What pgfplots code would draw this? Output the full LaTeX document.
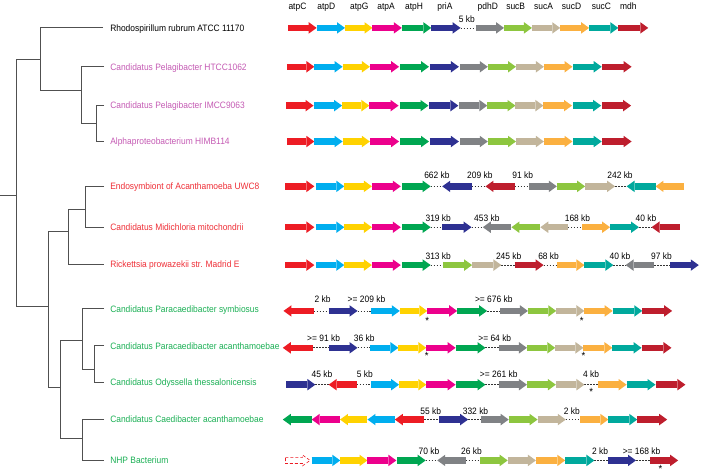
\documentclass[border=0pt]{standalone}
\usepackage{pgfplots}
\pgfplotsset{compat=1.18}
\usepackage{fontspec}
\setmainfont[FakeStretch=0.91]{Liberation Sans}
\usetikzlibrary{arrows.meta}
\definecolor{gC}{HTML}{ED1C24}
\definecolor{gD}{HTML}{00AEEF}
\definecolor{gG}{HTML}{FFD200}
\definecolor{gA}{HTML}{EC008C}
\definecolor{gH}{HTML}{00A651}
\definecolor{gP}{HTML}{2E3192}
\definecolor{gpd}{HTML}{808285}
\definecolor{gsB}{HTML}{8DC63F}
\definecolor{gsA}{HTML}{C2B59B}
\definecolor{gsD}{HTML}{FBB040}
\definecolor{gsC}{HTML}{00A99D}
\definecolor{gm}{HTML}{BE1E2D}
\definecolor{lpurple}{HTML}{C45AB3}
\definecolor{lred}{HTML}{EE2E36}
\definecolor{lgreen}{HTML}{1AAF54}
\definecolor{tree}{HTML}{505050}
\pgfplotsset{
  gene/.style={line width=6.5pt,-{Triangle[width=11.5pt,length=8pt,line width=0pt]},quiver={u=\thisrow{u},v=0}},
  gap/.style={line width=0.8pt,dash pattern=on 1.6pt off 1.4pt,black!80,quiver={u=\thisrow{u},v=0}},
}
\tikzset{txt/.style={font=\fontsize{9.3}{10}\selectfont,inner sep=0pt},
  star/.style={font=\fontsize{10.5}{10.5}\selectfont,inner sep=0pt,anchor=north}}
\begin{document}
\begin{tikzpicture}
\begin{axis}[scale only axis,width=702pt,height=473pt,
  xmin=0,xmax=702,ymin=0,ymax=473,y dir=reverse,clip=false,
  axis line style={draw=none},ticks=none,unbounded coords=jump]
% tree
\addplot[tree,line width=0.9pt] coordinates {
(0,196)(16,196) (nan,nan)
(40,60)(16,60)(16,307)(48,307) (nan,nan)
(103,28)(40,28)(40,91)(81,91) (nan,nan)
(104,67)(81,67)(81,124)(96,124) (nan,nan)
(104,106)(96,106)(96,142)(104,142) (nan,nan)
(68,232)(48,232)(48,389)(60,389) (nan,nan)
(85,210)(68,210)(68,265)(104,265) (nan,nan)
(104,187)(85,187)(85,228)(104,228) (nan,nan)
(82,342)(60,342)(60,440)(82,440) (nan,nan)
(104,310)(82,310)(82,371)(94,371) (nan,nan)
(104,347)(94,347)(94,384)(104,384) (nan,nan)
(104,421)(82,421)(82,462)(104,462)
};
% gaps
\addplot[gap] table {
x y u
461.7 28 15
431.7 187 11.6
472.7 187 14
516 187 14
616.7 187 11.6
431.7 228 11.6
472.7 228 11.3
569.3 228 14.7
640.7 228 12.6
431.7 266 12.3
502.7 266 13.3
545 266 13.3
615 266 12.3
656 266 15.7
314.3 312 15
358.3 312 14
488.3 312 13.4
314 349 15.3
358.3 349 12.4
486.7 349 13.3
316 386 13.3
357.3 386 14.4
486.7 386 13.3
586 386 14
425 421 15
469.3 421 12.4
567.3 421 14.4
426.7 462 11.6
466.7 462 14.3
596 462 13.3
637.7 462 14
};
% atpC
\addplot[gene,draw=gC,fill=gC] table {
x y u
289 28 28.3
287.3 67 27.7
286.5 106 27.7
287.3 142 27.7
286 187 29
286 228 29
286 266 29
314.3 312 -30.3
314 349 -30.7
357.3 386 -28
425 421 -29.3
};
\addplot[draw=gC,densely dashed,line width=0.6pt,fill=white] coordinates {
(286,458.9)(303.2,458.9)(303.2,456.6)(310.7,462)(303.2,467.4)(303.2,465.1)(286,465.1)(286,458.9)};
% atpD
\addplot[gene,draw=gD,fill=gD] table {
x y u
317.3 28 28.4
315 67 28.3
314.5 106 28.3
315 142 28.3
316.7 187 28.3
316.7 228 28.3
316.7 266 28.3
372.3 312 28.4
370.7 349 28.6
371.7 386 28.3
395.7 421 -27.4
312.3 462 28.7
};
% atpG
\addplot[gene,draw=gG,fill=gG] table {
x y u
345.7 28 27.6
343.3 67 27.4
342.8 106 27.4
343.3 142 27.4
345 187 27.7
345 228 27.7
345 266 27.7
400.7 312 27.6
399.3 349 28
400 386 27.3
368.3 421 -27.6
341 462 27.3
};
% atpA
\addplot[gene,draw=gA,fill=gA] table {
x y u
373.3 28 29.4
370.7 67 29.3
370.2 106 29.3
370.7 142 29.3
372.7 187 29
372.7 228 29
372.7 266 29
428.3 312 30
427.3 349 29.4
427.3 386 29.4
340.7 421 -28.4
368.3 462 29
};
% atpH
\addplot[gene,draw=gH,fill=gH] table {
x y u
402.7 28 29.6
401 67 29
400.5 106 29
401 142 29
402.7 187 29
402.7 228 29
402.7 266 29
458.3 312 30
456.7 349 30
456.7 386 30
312.3 421 -29
398.3 462 28.4
};
% priA
\addplot[gene,draw=gP,fill=gP] table {
x y u
432.3 28 29.4
430.7 67 29.3
430.2 106 29.3
430.7 142 29.3
472.7 187 -29.4
443.3 228 29.4
671.7 266 29
329.3 312 29
329.3 349 29
286.7 386 29.3
440 421 29.3
609.3 462 28.4
};
% pdhD
\addplot[gene,draw=gpd,fill=gpd] table {
x y u
476.7 28 28.6
461 67 28
460.5 106 28
461 142 28
530 187 28.3
512.7 228 -28.7
656 266 -28.7
501.7 312 27.6
500 349 28.3
500 386 28.3
481.7 421 28.3
466.7 462 -28.4
};
% sucB
\addplot[gene,draw=gsB,fill=gsB] table {
x y u
505.3 28 28
489 67 28.3
488.5 106 28.3
489 142 28.3
558.3 187 28.4
541.7 228 -29
444 266 29.3
529.3 312 28.4
528.3 349 28.4
528.3 386 29
510 421 29
481 462 28
};
% sucA
\addplot[gene,draw=gsA,fill=gsA] table {
x y u
533.3 28 28.4
517.3 67 28
516.8 106 28
517.3 142 28
586.7 187 30
569.3 228 -27.6
473.3 266 29.4
557.7 312 28.3
556.7 349 28.3
557.3 386 28.7
539 421 28.3
509 462 28.3
};
% sucD
\addplot[gene,draw=gsD,fill=gsD] table {
x y u
561.7 28 29
545.3 67 28.7
544.8 106 28.7
545.3 142 28.7
686 187 -28.7
584 228 27.7
558.3 266 27.7
586 312 28.3
585 349 29
600 386 28.3
581.7 421 28.3
537.3 462 29.4
};
% sucC
\addplot[gene,draw=gsC,fill=gsC] table {
x y u
590.7 28 29.3
575 67 28.3
574.5 106 28.3
575 142 28.3
657.3 187 -29
611.7 228 29
586 266 29
614.3 312 29.7
614 349 29.3
628.3 386 29
610 421 29
566.7 462 29.3
};
% mdh
\addplot[gene,draw=gm,fill=gm] table {
x y u
620 28 30
604 67 29.3
603.5 106 29.3
604 142 29.3
516 187 -29.3
681.7 228 -28.4
516 266 29
644 312 30
643.3 349 30
657.3 386 30
639 421 30
651.7 462 28.3
};
% species labels
\begin{scope}[every node/.style={txt,anchor=base west}]
\node[black] at (axis cs:110,31.3) {Rhodospirillum rubrum ATCC 11170};
\node[lpurple] at (axis cs:110,70.3) {Candidatus Pelagibacter HTCC1062};
\node[lpurple] at (axis cs:110,109.3) {Candidatus Pelagibacter IMCC9063};
\node[lpurple] at (axis cs:110,145.3) {Alphaproteobacterium HIMB114};
\node[lred] at (axis cs:110,190.3) {Endosymbiont of Acanthamoeba UWC8};
\node[lred] at (axis cs:110,231.3) {Candidatus Midichloria mitochondrii};
\node[lred] at (axis cs:110,268.3) {Rickettsia prowazekii str. Madrid E};
\node[lgreen] at (axis cs:110,313.3) {Candidatus Paracaedibacter symbiosus};
\node[lgreen] at (axis cs:110,350.3) {Candidatus Paracaedibacter acanthamoebae};
\node[lgreen] at (axis cs:110,387.3) {Candidatus Odyssella thessalonicensis};
\node[lgreen] at (axis cs:110,424.3) {Candidatus Caedibacter acanthamoebae};
\node[lgreen] at (axis cs:110,465.3) {NHP Bacterium};
\end{scope}
% gene names and distances
\begin{scope}[every node/.style={txt,anchor=base}]
\node at (axis cs:298,9.3) {atpC};
\node at (axis cs:327,9.3) {atpD};
\node at (axis cs:360,9.3) {atpG};
\node at (axis cs:387,9.3) {atpA};
\node at (axis cs:415,9.3) {atpH};
\node at (axis cs:446,9.3) {priA};
\node at (axis cs:489,9.3) {pdhD};
\node at (axis cs:517,9.3) {sucB};
\node at (axis cs:545,9.3) {sucA};
\node at (axis cs:573,9.3) {sucD};
\node at (axis cs:603,9.3) {sucC};
\node at (axis cs:630,9.3) {mdh};
\node at (axis cs:468,23) {5 kb};
\node at (axis cs:438,179) {662 kb};
\node at (axis cs:481,179) {209 kb};
\node at (axis cs:524,179) {91 kb};
\node at (axis cs:621.7,179) {242 kb};
\node at (axis cs:439.3,222) {319 kb};
\node at (axis cs:488,222) {453 kb};
\node at (axis cs:579,222) {168 kb};
\node at (axis cs:647.7,222) {40 kb};
\node at (axis cs:439.3,260) {313 kb};
\node at (axis cs:510,260) {245 kb};
\node at (axis cs:550,260) {68 kb};
\node at (axis cs:621.7,260) {40 kb};
\node at (axis cs:663.3,260) {97 kb};
\node at (axis cs:323.3,304) {2 kb};
\node at (axis cs:367.3,304) {>= 209 kb};
\node at (axis cs:495,304) {>= 676 kb};
\node at (axis cs:324.3,343) {>= 91 kb};
\node at (axis cs:365,343) {36 kb};
\node at (axis cs:496,343) {>= 64 kb};
\node at (axis cs:322.7,379) {45 kb};
\node at (axis cs:365.7,379) {5 kb};
\node at (axis cs:500,379) {>= 261 kb};
\node at (axis cs:592.7,379) {4 kb};
\node at (axis cs:431.7,415.7) {55 kb};
\node at (axis cs:476.7,415.7) {332 kb};
\node at (axis cs:573.3,415.7) {2 kb};
\node at (axis cs:430,456.3) {70 kb};
\node at (axis cs:472.7,456.3) {26 kb};
\node at (axis cs:601.7,456.3) {2 kb};
\node at (axis cs:643.3,456.3) {>= 168 kb};
\end{scope}
\node[star] at (axis cs:428.3,318.5) {*};
\node[star] at (axis cs:583.3,318.5) {*};
\node[star] at (axis cs:427.7,353.5) {*};
\node[star] at (axis cs:585,353.5) {*};
\node[star] at (axis cs:592.7,389.5) {*};
\node[star] at (axis cs:662.3,467) {*};
\end{axis}
\end{tikzpicture}
\end{document}
